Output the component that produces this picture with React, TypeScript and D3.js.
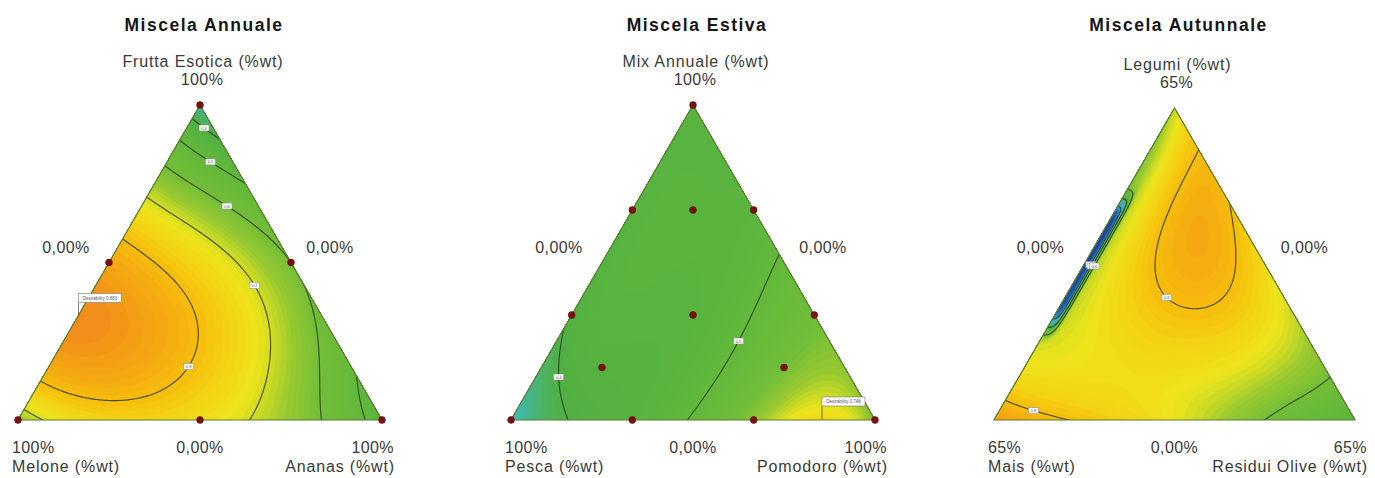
import React, { useMemo } from "react";
import * as d3 from "d3";

// ---------- texts ----------
const titles = ["Miscela Annuale", "Miscela Estiva", "Miscela Autunnale"];
const topNames = ["Frutta Esotica (%wt)", "Mix Annuale (%wt)", "Legumi (%wt)"];
const leftNames = ["Melone (%wt)", "Pesca (%wt)", "Mais (%wt)"];
const rightNames = ["Ananas (%wt)", "Pomodoro (%wt)", "Residui Olive (%wt)"];
const maxTicks = ["100%", "100%", "65%"];
const minTick = "0,00%";

// ---------- data ----------
// {3,4} simplex lattice: top component, left component (right = 1 - top - left)
const latticeTop = [1, 0.75, 0.75, 0.5, 0.5, 0.5, 0.25, 0.25, 0.25, 0.25, 0, 0, 0, 0, 0];
const latticeLeft = [0, 0.25, 0, 0.5, 0.25, 0, 0.75, 0.5, 0.25, 0, 1, 0.75, 0.5, 0.25, 0];

// desirability read at the lattice compositions
const desirabilityAnnuale = [0.33, 0.66, 0.5, 0.84, 0.75, 0.6, 0.87, 0.84, 0.74, 0.55, 0.65, 0.76, 0.74, 0.65, 0.45];
const desirabilityEstiva = [0.44, 0.44, 0.45, 0.43, 0.45, 0.51, 0.39, 0.44, 0.5, 0.62, 0.28, 0.42, 0.51, 0.71, 0.62];
const desirabilityAutunnale = [0.69, 0.63, 0.81, 0.65, 0.82, 0.74, 0.7, 0.75, 0.76, 0.66, 0.86, 0.79, 0.72, 0.6, 0.45];
const desirability = [desirabilityAnnuale, desirabilityEstiva, desirabilityAutunnale];

// narrow low band along the left edge (Autunnale)
const edgeDipCenter = [0, 0, 0.5];
const edgeDipHalfLength = [1, 1, 0.21];
const edgeDipDepth = [0, 0, 0.62];
const edgeDipWidth = [1, 1, 0.026];

// contour levels
const contourLevels = [
  [0.4, 0.5, 0.6, 0.7, 0.8],
  [0.4, 0.5],
  [0.2, 0.4, 0.6, 0.8],
];

// design points (top, left)
const designTopAnnuale = [1, 0, 0, 0.5, 0.5, 0];
const designLeftAnnuale = [0, 1, 0, 0.5, 0, 0.5];
const designTopEstiva = [1, 0, 0, 2 / 3, 1 / 3, 2 / 3, 1 / 3, 0, 0, 2 / 3, 1 / 3, 1 / 6, 1 / 6];
const designLeftEstiva = [0, 1, 0, 1 / 3, 2 / 3, 0, 0, 2 / 3, 1 / 3, 1 / 6, 1 / 3, 2 / 3, 1 / 6];
const designTop = [designTopAnnuale, designTopEstiva, [] as number[]];
const designLeft = [designLeftAnnuale, designLeftEstiva, [] as number[]];
const showFlag = [true, true, false];

// colour ramp (desirability 0 -> 1)
const rampStops = [0, 0.1, 0.2, 0.3, 0.4, 0.5, 0.6, 0.66, 0.69, 0.72, 0.76, 0.8, 0.85, 0.9, 1.0];
const rampColors = ["#1a3a8c", "#2560b0", "#3aa6d2", "#40b8b8", "#50b043", "#62b83a", "#72bd38", "#98c930", "#c6d826", "#ece41c", "#f3d414", "#f6bc0c", "#f4a014", "#ef7e22", "#e64a1e"];

// ---------- layout ----------
const panelLeft = [18, 511, 994];
const panelRight = [382, 875, 1355];
const panelTop = [105, 105, 108];
const baseY = 420;

const color = d3.scaleLinear<string>().domain(rampStops).range(rampColors).interpolate(d3.interpolateRgb).clamp(true);

function basis(a: number, b: number, c: number): number[] {
  return [
    a, b, c,
    a * b, a * c, b * c,
    a * b * (a - b), a * c * (a - c), b * c * (b - c),
    a * b * (a - b) * (a - b), a * c * (a - c) * (a - c), b * c * (b - c) * (b - c),
    a * a * b * c, a * b * b * c, a * b * c * c,
  ];
}

function solve(A: number[][], y: number[]): number[] {
  const n = A.length;
  const M = A.map((r, i) => [...r, y[i]]);
  for (let col = 0; col < n; col++) {
    let piv = col;
    for (let r = col + 1; r < n; r++) if (Math.abs(M[r][col]) > Math.abs(M[piv][col])) piv = r;
    const t = M[col]; M[col] = M[piv]; M[piv] = t;
    for (let r = 0; r < n; r++) {
      if (r === col) continue;
      const f = M[r][col] / M[col][col];
      for (let k = col; k <= n; k++) M[r][k] -= f * M[col][k];
    }
  }
  return M.map((r, j) => r[n] / r[j]);
}

function fitModel(values: number[]): number[] {
  const X = latticeTop.map((a, i) => basis(a, latticeLeft[i], 1 - a - latticeLeft[i]));
  return solve(X, values);
}

type Label = { x: number; y: number; text: string };

function buildPanel(i: number) {
  const left = panelLeft[i], right = panelRight[i], top = panelTop[i];
  const xs = d3.scaleLinear().domain([0, 1]).range([left, right]);
  const ys = d3.scaleLinear().domain([0, 1]).range([baseY, top]);
  const coef = fitModel(desirability[i]);
  const f = (a: number, b: number, c: number) => {
    const bs = basis(a, b, c);
    let v = 0;
    for (let k = 0; k < bs.length; k++) v += coef[k] * bs[k];
    if (edgeDipDepth[i] > 0) {
      v -= edgeDipDepth[i] * Math.exp(-Math.pow(c / edgeDipWidth[i], 4)) *
        Math.exp(-Math.pow(Math.abs(a - edgeDipCenter[i]) / edgeDipHalfLength[i], 8));
    }
    return v;
  };
  const s = 1.5, m = 10;
  const x0 = left - m, y0 = top - m;
  const nx = Math.ceil((right - left + 2 * m) / s) + 1;
  const ny = Math.ceil((baseY - top + 2 * m) / s) + 1;
  const vals = new Array(nx * ny);
  let best = { v: -Infinity, x: 0, y: 0 };
  for (let j = 0; j < ny; j++) {
    for (let k = 0; k < nx; k++) {
      const px = x0 + k * s, py = y0 + j * s;
      const a = ys.invert(py);
      const c = xs.invert(px) - a / 2;
      const b = 1 - a - c;
      let v = f(a, b, c);
      v = Math.max(-0.1, Math.min(1.1, v));
      vals[j * nx + k] = v;
      if (Math.min(a, b, c) >= 0 && v > best.v) best = { v, x: px, y: py };
    }
  }
  const proj = d3.geoTransform({
    point(x: number, y: number) {
      (this as any).stream.point(x0 + (x - 0.5) * s, y0 + (y - 0.5) * s);
    },
  });
  const path = d3.geoPath(proj);
  const step = 0.01;
  const fillTh = d3.range(-0.1, 1.1, step);
  const fills = d3.contours().size([nx, ny]).thresholds(fillTh)(vals)
    .map((g) => ({ d: path(g as any) || "", fill: color(g.value + step / 2) }))
    .filter((g) => g.d.length > 0);
  const lineGeoms = d3.contours().size([nx, ny]).thresholds(contourLevels[i])(vals);
  const lines = lineGeoms.map((g) => path(g as any) || "");

  // labels: longest inside run of each ring
  const labels: Label[] = [];
  const inside = (px: number, py: number) => {
    const a = ys.invert(py);
    const c = xs.invert(px) - a / 2;
    const b = 1 - a - c;
    return Math.min(a, b, c) > 0.006;
  };
  lineGeoms.forEach((g) => {
    g.coordinates.forEach((poly) => {
      poly.forEach((ring) => {
        const pts = ring.map(([x, y]) => [x0 + (x - 0.5) * s, y0 + (y - 0.5) * s]);
        const n = pts.length - 1;
        if (n < 3) return;
        const ins = pts.slice(0, n).map((p) => inside(p[0], p[1]));
        let start = ins.findIndex((v) => !v);
        const all = start < 0;
        if (all) start = 0;
        let bestRun: number[][] = [];
        let cur: number[][] = [];
        for (let t = 0; t <= n; t++) {
          const idx = (start + t) % n;
          if (ins[idx] && !(t === n && !all)) cur.push(pts[idx]);
          else { if (cur.length > bestRun.length) bestRun = cur; cur = []; }
        }
        if (cur.length > bestRun.length) bestRun = cur;
        if (bestRun.length < 2) return;
        let len = 0;
        const cum = [0];
        for (let t = 1; t < bestRun.length; t++) {
          len += Math.hypot(bestRun[t][0] - bestRun[t - 1][0], bestRun[t][1] - bestRun[t - 1][1]);
          cum.push(len);
        }
        if (len < 18) return;
        const half = len / 2;
        let t = cum.findIndex((v) => v >= half);
        if (t < 0) t = bestRun.length - 1;
        labels.push({ x: bestRun[t][0], y: bestRun[t][1], text: String(g.value) });
      });
    });
  });

  const design = designTop[i].map((a, k) => {
    const b = designLeft[i][k];
    const c = 1 - a - b;
    return { x: xs(c + a / 2), y: ys(a) };
  });
  const apexX = (left + right) / 2;
  const tri = `M${xs(0)},${ys(0)}L${xs(1)},${ys(0)}L${xs(0.5)},${ys(1)}Z`;
  return { i, left, right, top, apexX, tri, fills, lines, labels, design, best };
}

function PanelView({ p }: { p: ReturnType<typeof buildPanel> }) {
  const clipId = `clip${p.i}`;
  const textFill = "#3a3a3a";
  const nameSp = 0.85;
  const numSp = 0.4;
  return (
    <g>
      <defs>
        <clipPath id={clipId}><path d={p.tri} /></clipPath>
      </defs>
      <g clipPath={`url(#${clipId})`}>
        {p.fills.map((f, k) => <path key={k} d={f.d} fill={f.fill} stroke="none" />)}
        {p.lines.map((d, k) => <path key={k} d={d} fill="none" stroke="#2e3a1e" strokeWidth={1.15} strokeOpacity={0.85} />)}
      </g>
      <path d={p.tri} fill="none" stroke="#5b7d2e" strokeWidth={1.2} />
      {p.labels.map((l, k) => (
        <g key={k}>
          <rect x={l.x - 5} y={l.y - 3} width={10} height={6} fill="#f6f6f6" stroke="#8a8a8a" strokeWidth={0.5} />
          <text x={l.x} y={l.y + 1.5} fontSize={4} textAnchor="middle" fill="#666">{l.text}</text>
        </g>
      ))}
      {showFlag[p.i] && (
        <g>
          <line x1={p.best.x} y1={p.best.y} x2={p.best.x} y2={p.best.y - 13} stroke="#444" strokeWidth={0.7} />
          <rect x={p.best.x} y={p.best.y - 22} width={43} height={9} fill="#fff" stroke="#777" strokeWidth={0.6} />
          <text x={p.best.x + 21.5} y={p.best.y - 15.8} fontSize={4.5} textAnchor="middle" fill="#555">{`Desirability ${p.best.v.toFixed(3)}`}</text>
        </g>
      )}
      {p.design.map((d, k) => <circle key={k} cx={d.x} cy={d.y} r={3.4} fill="#7a1212" stroke="#5a0a0a" strokeWidth={0.6} />)}
      <text x={p.apexX + 4} y={31} textAnchor="middle" fontSize={17.5} fontWeight="bold" letterSpacing={1.5} fill="#151515">{titles[p.i]}</text>
      <text x={p.apexX + 3} y={67 + (p.top - 105)} textAnchor="middle" fontSize={16} letterSpacing={nameSp} fill={textFill}>{topNames[p.i]}</text>
      <text x={p.apexX + 2} y={85 + (p.top - 105)} textAnchor="middle" fontSize={16} letterSpacing={numSp} fill={textFill}>{maxTicks[p.i]}</text>
      <text x={p.apexX - 134} y={253} textAnchor="middle" fontSize={16} letterSpacing={numSp} fill={textFill}>{minTick}</text>
      <text x={p.apexX + 130} y={253} textAnchor="middle" fontSize={16} letterSpacing={numSp} fill={textFill}>{minTick}</text>
      <text x={p.left - 6} y={453} textAnchor="start" fontSize={16} letterSpacing={numSp} fill={textFill}>{maxTicks[p.i]}</text>
      <text x={p.apexX} y={453} textAnchor="middle" fontSize={16} letterSpacing={numSp} fill={textFill}>{minTick}</text>
      <text x={p.right + 12} y={453} textAnchor="end" fontSize={16} letterSpacing={numSp} fill={textFill}>{maxTicks[p.i]}</text>
      <text x={p.left - 6} y={472} textAnchor="start" fontSize={16} letterSpacing={nameSp} fill={textFill}>{leftNames[p.i]}</text>
      <text x={p.right + 13} y={472} textAnchor="end" fontSize={16} letterSpacing={nameSp} fill={textFill}>{rightNames[p.i]}</text>
    </g>
  );
}

export default function App() {
  const panels = useMemo(() => [0, 1, 2].map(buildPanel), []);
  return (
    <svg width={1375} height={478} style={{ position: "absolute", left: 0, top: 0, display: "block" }}
      fontFamily="'Liberation Sans', Arial, Helvetica, sans-serif">
      <rect width={1375} height={478} fill="#ffffff" />
      {panels.map((p) => <PanelView key={p.i} p={p} />)}
    </svg>
  );
}
